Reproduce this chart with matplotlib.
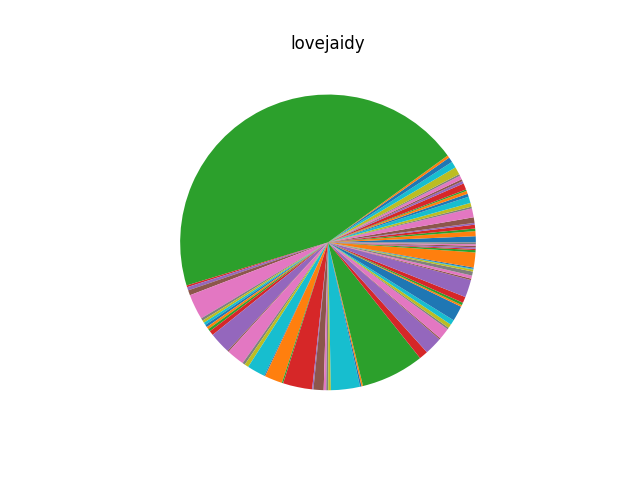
import matplotlib
matplotlib.use("Agg")
import matplotlib.pyplot as plt

title = "lovejaidy"

# relative size of each slice, in drawing order (counter-clockwise from 3 o'clock),
# estimated from the reference picture
shares_first = [2.4, 2.0, 1.0, 1.5, 0.7, 2.2, 3.5, 0.7, 1.5, 2.5, 1.2,
                1.2, 0.6, 2.5, 1.0, 0.8, 1.5, 0.7, 3.0, 2.5, 2.0, 1.0]
share_top = [161.0]
shares_left = [0.7, 1.3, 2.0, 10.0, 1.0, 1.0, 1.0, 1.0, 1.0, 1.0, 1.8,
               8.5, 0.5, 7.0, 1.0, 1.6]
shares_bottom = [7.1, 0.4, 7.0, 0.5, 11.5, 0.5, 4.0, 1.0, 0.8, 1.0, 11.4,
                 0.6, 0.6, 24.8]
shares_right = [3.5, 7.0, 0.5, 4.5, 0.7, 1.5, 2.0, 6.0, 0.7, 1.0, 2.4,
                6.9, 0.6, 1.2, 1.6, 0.8, 0.3, 0.5, 5.9,
                0.9, 0.5, 0.6, 0.6, 0.6, 0.7]

shares = shares_first + share_top + shares_left + shares_bottom + shares_right

fig, ax = plt.subplots(figsize=(6.4, 4.8), dpi=100)
ax.pie(shares)
ax.set_title(title)
plt.savefig("out.png", dpi=100)
plt.close()
print("Saved: out.png")
